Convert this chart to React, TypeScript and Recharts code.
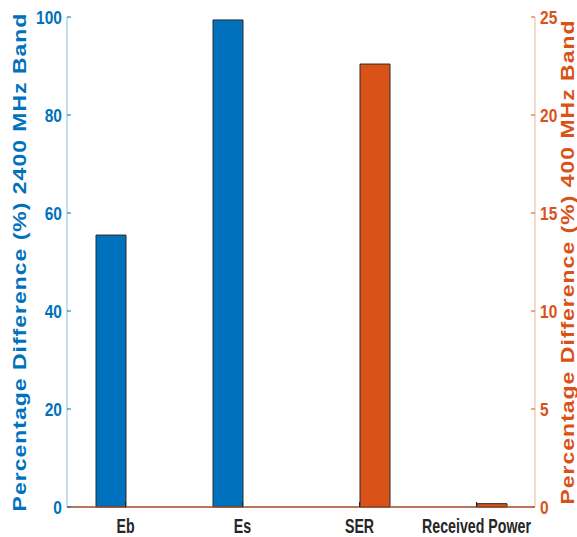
import React from 'react';
import { BarChart, Bar, XAxis, YAxis } from 'recharts';

// ---------------------------------------------------------------------------
// Data
// ---------------------------------------------------------------------------

const categories = ['Eb', 'Es', 'SER', 'Received Power'];
const diff2400 = [55.5, 99.4, 0, 0];
const diff400 = [0, 0, 22.6, 0.17];
const leftTicks = [0, 20, 40, 60, 80, 100];
const rightTicks = [0, 5, 10, 15, 20, 25];

const chartData = categories.map((name, i) => ({
  name,
  band2400: diff2400[i],
  band400: diff400[i]
}));

const BLUE = '#0072BD';
const ORANGE = '#D95319';
const FONT = '"Liberation Sans", Arial, Helvetica, sans-serif';

// condensed category label (no narrow font installed, so squeeze it)
const CategoryTick = (props: any) => {
  const { x, y, payload } = props;
  return (
    <text
      transform={`translate(${x}, ${y}) scale(0.71, 1)`}
      textAnchor="middle"
      dy="0.71em"
      fill="#262626"
      fontFamily={FONT}
      fontWeight="bold"
      fontSize={20}
    >
      {payload.value}
    </text>
  );
};

const ValueTick = (props: any) => {
  const { x, y, payload, textAnchor, fill } = props;
  return (
    <text
      transform={`translate(${x}, ${y}) scale(0.84, 1)`}
      textAnchor={textAnchor}
      dy="0.36em"
      fill={fill}
      fontFamily={FONT}
      fontWeight="bold"
      fontSize={18.5}
    >
      {payload.value}
    </text>
  );
};

// rotated axis title, drawn at a fixed x next to the axis, glyphs squeezed
const AxisTitle = (props: any) => {
  const { viewBox, text, color, tx } = props;
  const cy = viewBox.y + viewBox.height / 2;
  return (
    <text
      transform={`translate(${tx}, ${cy}) rotate(-90) scale(1, 0.8)`}
      textAnchor="middle"
      dominantBaseline="central"
      fill={color}
      fontFamily={FONT}
      fontWeight="bold"
      fontSize={23}
      letterSpacing={1}
    >
      {text}
    </text>
  );
};

export default function App() {
  return (
    <div style={{ position: 'fixed', left: 0, top: 0, background: '#fff' }}>
      <BarChart
        width={577}
        height={537}
        data={chartData}
        margin={{ top: 17, right: 0, bottom: 0, left: 0 }}
        barSize={30}
        barGap={0}
      >
        <XAxis
          dataKey="name"
          xAxisId="bottom"
          height={30}
          axisLine={{ stroke: '#9b4a24', strokeWidth: 1.5 }}
          tickLine={{ stroke: '#222' }}
          tickSize={-5}
          tickMargin={16.5}
          interval={0}
          tick={<CategoryTick />}
        />
        <XAxis
          dataKey="name"
          xAxisId="top"
          orientation="top"
          height={0}
          axisLine={{ stroke: '#777' }}
          tickLine={{ stroke: '#222' }}
          tickSize={-5}
          tick={false}
        />
        <YAxis
          yAxisId="left"
          orientation="left"
          width={67}
          domain={[0, 100]}
          ticks={leftTicks}
          axisLine={{ stroke: '#8cbfe3' }}
          tickLine={{ stroke: BLUE }}
          tickSize={-4}
          tickMargin={9}
          tick={<ValueTick fill={BLUE} />}
          label={<AxisTitle text="Percentage Difference (%) 2400 MHz Band" color={BLUE} tx={19} />}
        />
        <YAxis
          yAxisId="right"
          orientation="right"
          width={42}
          domain={[0, 25]}
          ticks={rightTicks}
          axisLine={{ stroke: '#eeb29a' }}
          tickLine={{ stroke: ORANGE }}
          tickSize={-4}
          tickMargin={9}
          tick={<ValueTick fill={ORANGE} />}
          label={<AxisTitle text="Percentage Difference (%) 400 MHz Band" color={ORANGE} tx={567} />}
        />
        <Bar
          dataKey="band2400"
          xAxisId="bottom"
          yAxisId="left"
          fill={BLUE}
          stroke="#2b2b2b"
          strokeWidth={1}
          isAnimationActive={false}
        />
        <Bar
          dataKey="band400"
          xAxisId="bottom"
          yAxisId="right"
          fill={ORANGE}
          stroke="#2b2b2b"
          strokeWidth={1}
          isAnimationActive={false}
        />
      </BarChart>
    </div>
  );
}
